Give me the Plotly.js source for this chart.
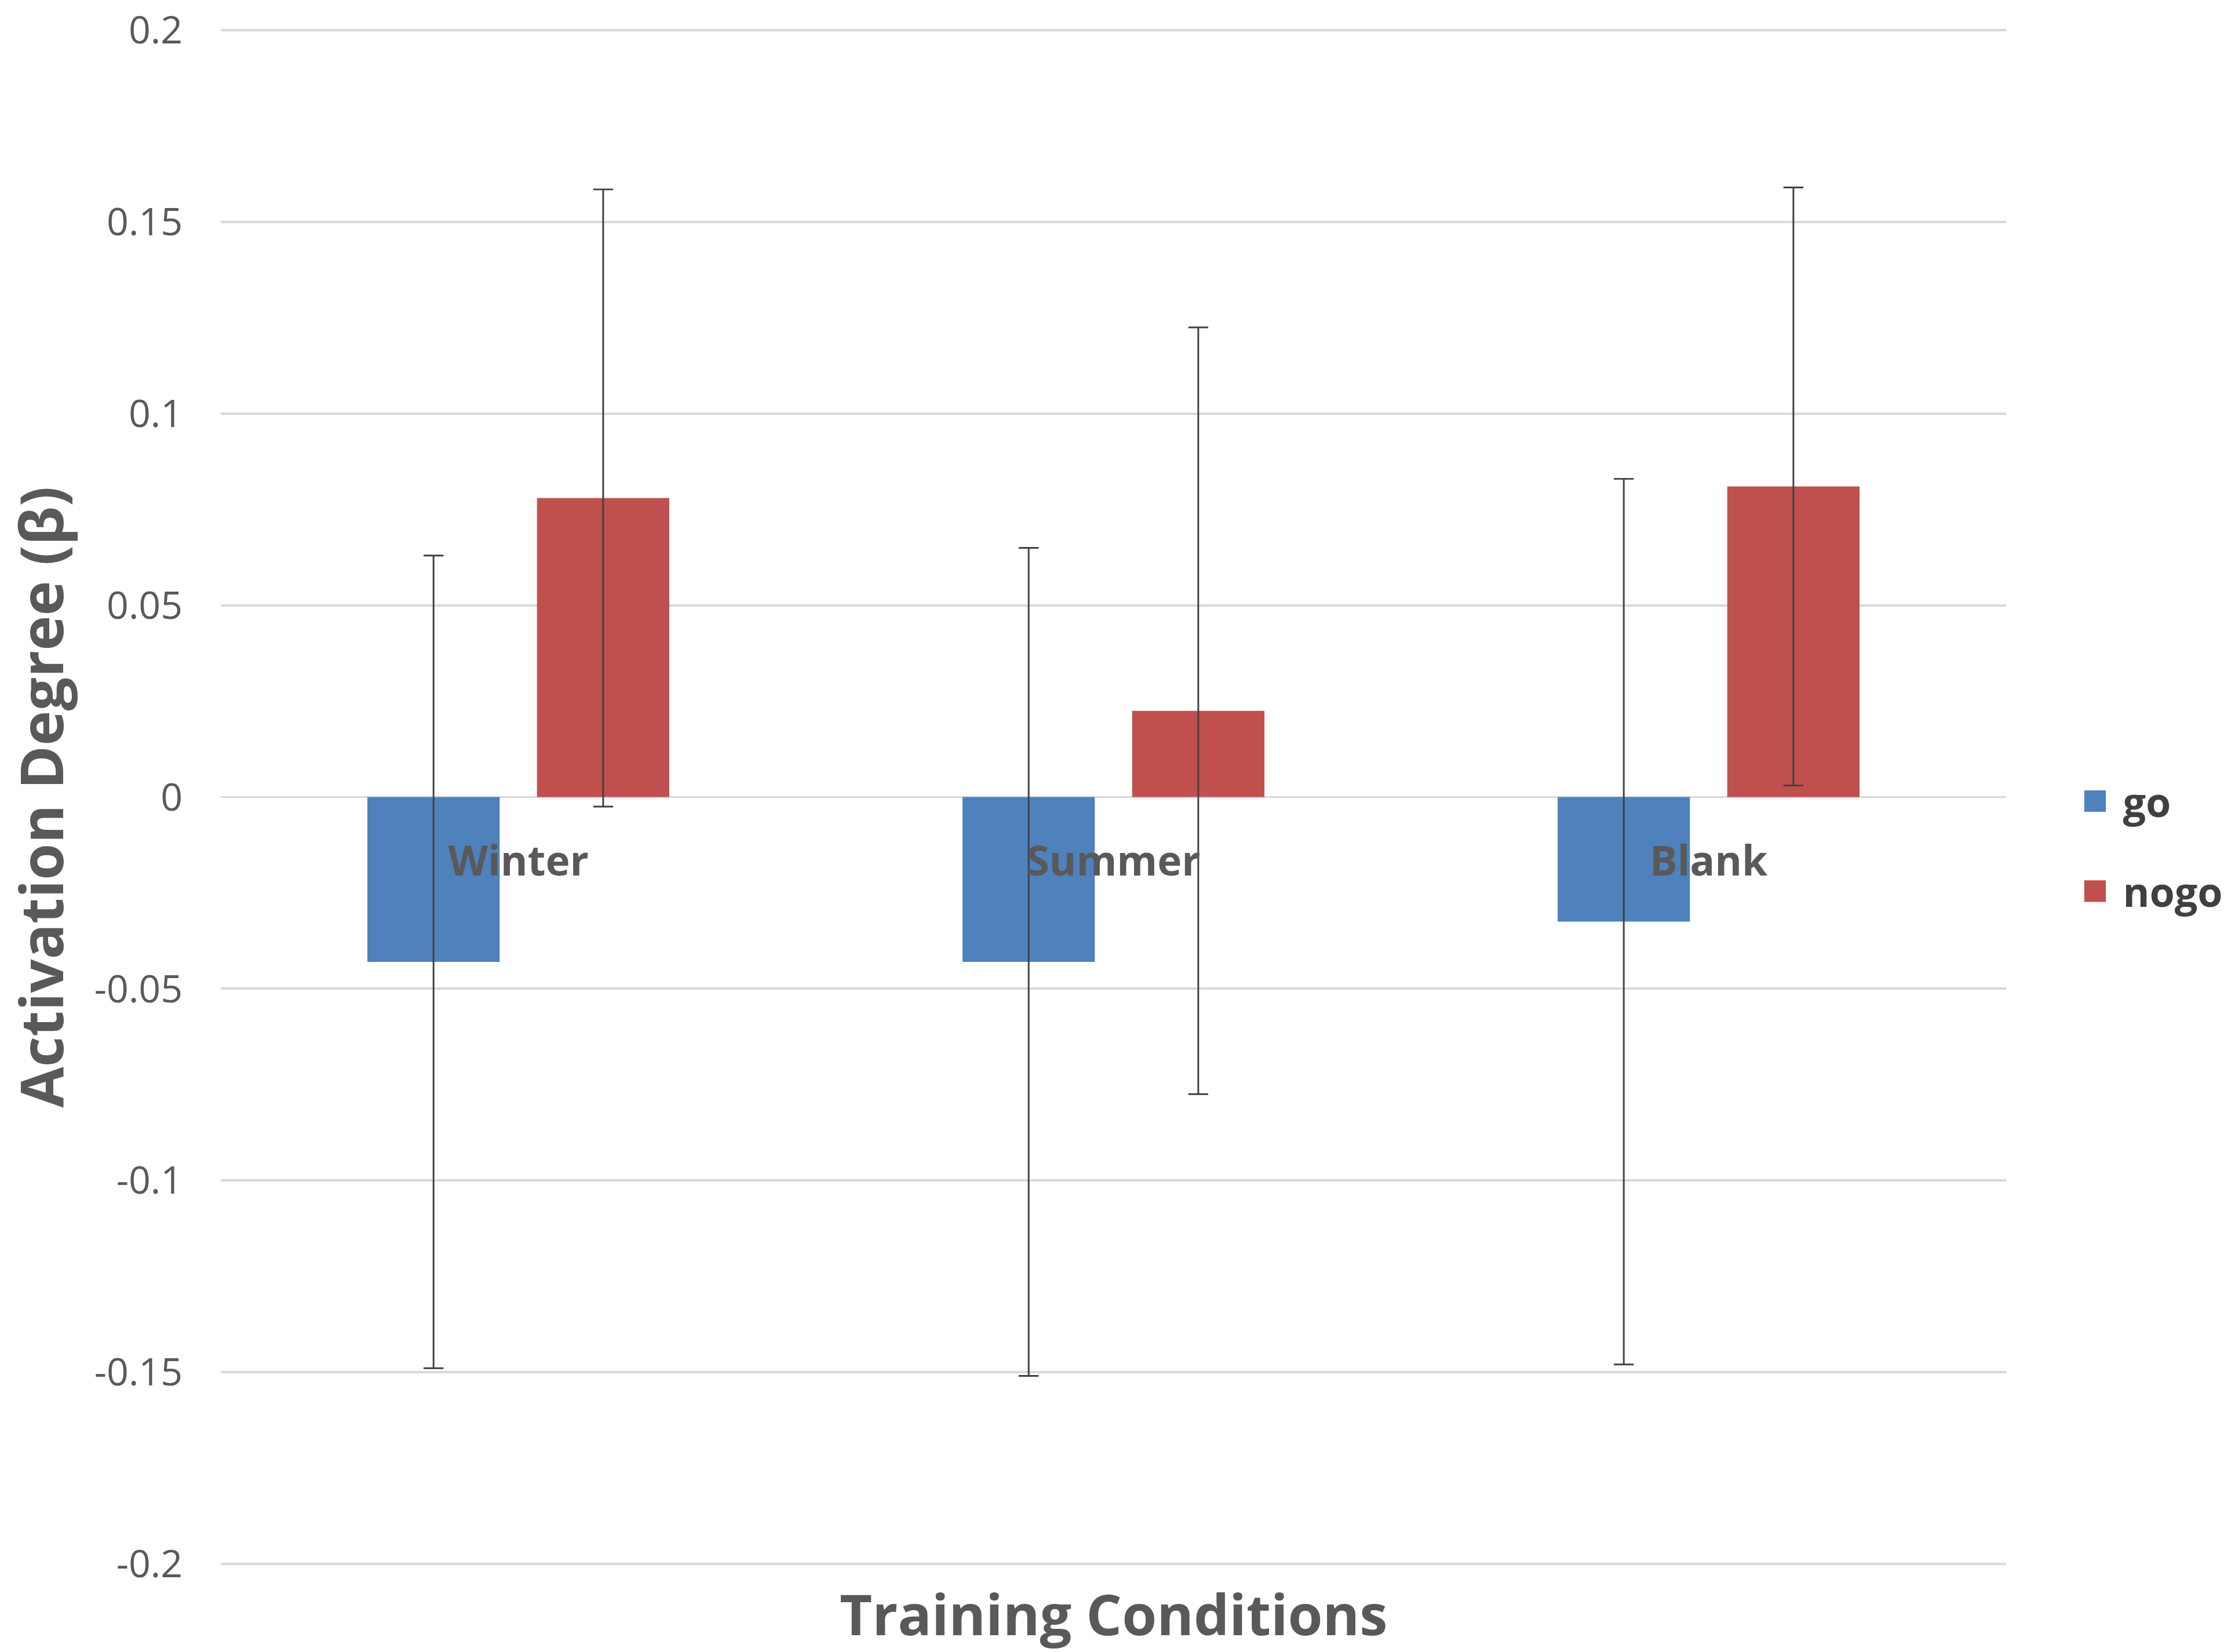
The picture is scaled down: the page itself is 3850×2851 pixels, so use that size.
<!DOCTYPE html>
<html>
<head>
<meta charset="utf-8">
<script src="https://cdn.plot.ly/plotly-3.0.1.min.js"></script>
<style>
  html, body { margin: 0; padding: 0; background: #fff; }
</style>
</head>
<body>
<div id="barChart"></div>
<script>
// chart values
const conditions = ["Winter", "Summer", "Blank"];
const goValues = [-0.043, -0.043, -0.0325];
const goErrors = [0.106, 0.108, 0.1155];
const nogoValues = [0.078, 0.0225, 0.081];
const nogoErrors = [0.0805, 0.1, 0.078];
const yTickVals = [0.2, 0.15, 0.1, 0.05, 0, -0.05, -0.1, -0.15, -0.2];
const yTickText = ["0.2", "0.15", "0.1", "0.05", "0", "-0.05", "-0.1", "-0.15", "-0.2"];

// measured on a 1568px wide copy, so scale everything up to the real size
const S = 3850 / 1568;

const errStyle = { type: "data", visible: true, thickness: 1.2 * S, width: 7 * S, color: "#404040" };

const traces = [
  {
    type: "bar",
    name: "go",
    x: conditions,
    y: goValues,
    marker: { color: "#4f81bd" },
    error_y: Object.assign({ array: goErrors }, errStyle),
    legendgroup: "go",
  },
  {
    type: "bar",
    name: "nogo",
    x: conditions,
    y: nogoValues,
    marker: { color: "#c0504d" },
    error_y: Object.assign({ array: nogoErrors }, errStyle),
    legendgroup: "nogo",
  },
];

const layout = {
  width: 3850,
  height: 2851,
  margin: { l: 155 * S, r: 158 * S, t: 19 * S, b: 60 * S, pad: 0, autoexpand: false },
  paper_bgcolor: "#ffffff",
  plot_bgcolor: "#ffffff",
  font: { family: "Open Sans, sans-serif", color: "#595959" },
  barmode: "group",
  bargap: 0.43,
  bargroupgap: 0.22,
  showlegend: true,
  legend: {
    x: 1.042,
    y: 0.468,
    xanchor: "left",
    yanchor: "middle",
    traceorder: "grouped",
    tracegroupgap: 25 * S,
    font: { size: 28.5 * S, color: "#404040", weight: "bold" },
    itemwidth: 62,
  },
  xaxis: {
    type: "category",
    anchor: "free",
    position: 0.5,
    showline: false,
    showgrid: false,
    zeroline: false,
    ticks: "outside",
    ticklen: 20 * S,
    tickcolor: "rgba(0,0,0,0)",
    tickfont: { size: 29 * S, color: "#595959", weight: "bold" },
    range: [-0.5, 2.5],
  },
  yaxis: {
    range: [-0.2008, 0.2008],
    tickvals: yTickVals,
    ticktext: yTickText,
    ticks: "outside",
    ticklen: 21 * S,
    tickcolor: "rgba(0,0,0,0)",
    ticklabeloverflow: "allow",
    tickfont: { size: 27 * S, color: "#595959" },
    showgrid: true,
    gridcolor: "#d9d9d9",
    gridwidth: 1.5 * S,
    zeroline: true,
    zerolinecolor: "#d9d9d9",
    zerolinewidth: 1.5 * S,
    showline: false,
    title: {
      text: "Activation Degree (β)",
      font: { size: 41.5 * S, color: "#595959", weight: "bold" },
      standoff: 12 * S,
    },
  },
  annotations: [
    {
      text: "Training Conditions",
      xref: "paper",
      yref: "paper",
      x: 0.5,
      y: -0.03,
      xanchor: "center",
      yanchor: "middle",
      showarrow: false,
      font: { size: 39.5 * S, color: "#595959", weight: "bold" },
    },
  ],
};

Plotly.newPlot("barChart", traces, layout, { staticPlot: true, displayModeBar: false }).then(() => {
  // legend swatches are a fixed 12px square; blow them up to match
  document.querySelectorAll(".legendpoints path").forEach((p) => {
    p.setAttribute("transform", "translate(24,0) scale(3.1)");
  });
});
</script>
</body>
</html>
